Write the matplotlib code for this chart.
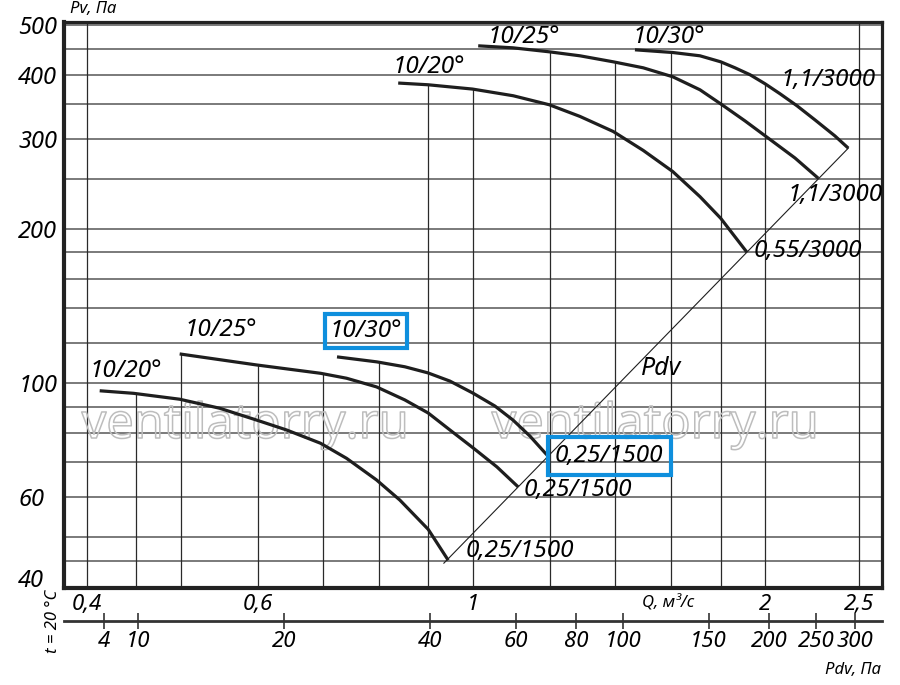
import numpy as np
import matplotlib.pyplot as plt
from matplotlib.ticker import NullFormatter
import matplotlib.patheffects as pe

plt.rcParams['font.family'] = ['Noto Sans', 'DejaVu Sans']
plt.rcParams['font.style'] = 'italic'

# fan curves: Q in m3/s, Pv in Pa
q_20_lo = [0.4125, 0.447, 0.4987, 0.5484, 0.5983, 0.6426, 0.6966, 0.741, 0.7956, 0.8409, 0.8995, 0.9431]
pv_20_lo = [96.6, 95.5, 93.0, 89.3, 84.7, 81.0, 76.3, 71.3, 64.7, 59.1, 51.8, 45.1]
q_25_lo = [0.4987, 0.5983, 0.6966, 0.741, 0.7956, 0.8509, 0.8995, 0.9469, 1.0007, 1.0587, 1.1134]
pv_25_lo = [114.0, 108.5, 104.5, 102.2, 98.3, 92.7, 87.4, 81.0, 74.7, 68.6, 62.7]
q_30_lo = [0.7244, 0.7962, 0.8509, 0.8987, 0.9469, 1.0, 1.0536, 1.0997, 1.1449, 1.192]
pv_30_lo = [112.5, 110.0, 107.6, 104.7, 100.9, 95.6, 90.2, 84.7, 78.8, 72.4]

q_20_hi = [0.8376, 0.8995, 0.9993, 1.1005, 1.1985, 1.2893, 1.3951, 1.4982, 1.6069, 1.714, 1.8004, 1.915]
pv_20_hi = [385.3, 382.3, 375.0, 363.9, 349.5, 331.6, 309.9, 284.6, 258.8, 231.2, 209.8, 180.3]
q_25_hi = [1.0127, 1.0997, 1.1985, 1.2893, 1.3951, 1.4982, 1.6069, 1.714, 1.8058, 1.9073, 2.0144, 2.1474, 2.2696]
pv_25_hi = [455.5, 451.4, 443.4, 435.5, 423.9, 412.6, 396.3, 373.8, 349.5, 325.0, 301.0, 275.1, 251.1]
q_30_hi = [1.469, 1.6069, 1.714, 1.8004, 1.8627, 1.9301, 2.0, 2.0724, 2.1576, 2.2517, 2.3613, 2.4372]
pv_30_hi = [447.4, 442.0, 435.5, 423.9, 412.6, 400.0, 384.1, 367.2, 347.9, 326.5, 303.7, 287.5]

curves = [(q_20_lo, pv_20_lo), (q_25_lo, pv_25_lo), (q_30_lo, pv_30_lo),
          (q_20_hi, pv_20_hi), (q_25_hi, pv_25_hi), (q_30_hi, pv_30_hi)]
start_labels = ["10/20°", "10/25°", "10/30°", "10/20°", "10/25°", "10/30°"]
end_labels = ["0,25/1500", "0,25/1500", "0,25/1500", "0,55/3000", "1,1/3000", "1,1/3000"]
start_boxed = [False, False, True, False, False, False]
end_boxed = [False, False, True, False, False, False]

# Pdv line through the curve ends
pdv_line_q = [0.9335, 2.437]
pdv_line_p = [44.5, 287.5]
# dynamic pressure scale below: Pdv = k * Q^2
k_pdv = 49

q_ticks = [0.4, 0.6, 1, 2, 2.5]
q_tick_labels = ["0,4", "0,6", "1", "2", "2,5"]
q_grid = [0.4, 0.45, 0.5, 0.6, 0.7, 0.8, 0.9, 1.0, 1.2, 1.4, 1.6, 1.8, 2.0, 2.5]
pv_ticks = [40, 60, 100, 200, 300, 400, 500]
pv_grid = [40, 45, 50, 60, 70, 80, 90, 100, 120, 140, 160, 180, 200, 250, 300, 350, 400, 450, 500]
# the first Pdv tick sits where the scale gives ~8.5 but the sheet prints "4"
pdv_ticks = [8.5, 10, 20, 40, 60, 80, 100, 150, 200, 250, 300]
pdv_tick_labels = ["4", "10", "20", "40", "60", "80", "100", "150", "200", "250", "300"]

blue = '#0f8fdd'
ink = '#1e1e1e'

fig = plt.figure(figsize=(9, 6.85), dpi=100)
ax = fig.add_axes([0.0711, 0.1416, 0.9089, 0.8263])
ax.set_xscale('log')
ax.set_yscale('log')
xmin, xmax = 0.379, 2.64
ymin, ymax = 39.8, 507
ax.set_xlim(xmin, xmax)
ax.set_ylim(ymin, ymax)

# horizontal grid, full width
for p in pv_grid:
    ax.axhline(p, color='#707070', lw=1.3, zorder=1)

# vertical grid, stops under the highest curve
for q in q_grid:
    tops = [np.exp(np.interp(np.log(q), np.log(cq), np.log(cp)))
            for cq, cp in curves if cq[0] <= q <= cq[-1]]
    top = max(tops) if tops else ymax
    ax.vlines(q, ymin, top, color='#2a2a2a', lw=0.9, zorder=1)

# watermark, outline only
for xf in [0.2213, 0.7225]:
    ax.text(xf, 0.265, "ventilatorry.ru", transform=ax.transAxes, fontsize=35,
            style='normal', ha='center', va='baseline', color='none', zorder=2,
            path_effects=[pe.Stroke(linewidth=1.1, foreground='#bdbdbd')])

# Pdv line
ax.plot(pdv_line_q, pdv_line_p, color=ink, lw=0.8, zorder=3)
ax.text(1.49, 107, "Pdv", fontsize=18, ha='left', va='center', zorder=4)

start_off = [(-10, 20), (5, 24), (-7, 26), (-6, 16), (9, 9), (-2, 13)]
end_off = [(17, 9), (5, -3), (8, -1), (7, 1), (-31, -17), (-68, 68)]

for i, (cq, cp) in enumerate(curves):
    ax.plot(cq, cp, color=ink, lw=2.3, zorder=4, solid_capstyle='butt')
    bb = dict(boxstyle='square,pad=0.2', fc='none', ec=blue, lw=3) if start_boxed[i] else None
    ax.annotate(start_labels[i], (cq[0], cp[0]), xytext=start_off[i],
                textcoords='offset pixels', fontsize=17.5, ha='left', va='center',
                bbox=bb, zorder=5)
    bb = dict(boxstyle='square,pad=0.3', fc='none', ec=blue, lw=3) if end_boxed[i] else None
    ax.annotate(end_labels[i], (cq[-1], cp[-1]), xytext=end_off[i],
                textcoords='offset pixels', fontsize=17.5, ha='left', va='center',
                bbox=bb, zorder=5)

# axes ticks
ax.set_xticks(q_ticks, q_tick_labels)
ax.set_xticks([], minor=True)
ax.set_yticks(pv_ticks, [str(v) for v in pv_ticks])
ax.set_yticks([], minor=True)
ax.yaxis.set_minor_formatter(NullFormatter())
ax.xaxis.set_minor_formatter(NullFormatter())
ax.tick_params(axis='x', length=0, pad=4, labelsize=16)
ax.tick_params(axis='y', length=0, pad=33, labelsize=17)
for lbl in ax.get_yticklabels():
    lbl.set_horizontalalignment('left')
    if lbl.get_text() == "40":
        lbl.set_verticalalignment('baseline')

for s in ax.spines.values():
    s.set_linewidth(2.3)
    s.set_color('#222222')
ax.spines['bottom'].set_linewidth(3)
ax.spines['left'].set_linewidth(3)

# Pdv scale below
sec = ax.secondary_xaxis(-0.0583, functions=(lambda q: k_pdv * q ** 2,
                                               lambda p: np.sqrt(np.clip(p, 1e-9, None) / k_pdv)))
sec.set_xticks(pdv_ticks, pdv_tick_labels)
sec.set_xticks([], minor=True)
sec.xaxis.set_minor_formatter(NullFormatter())
sec.tick_params(axis='x', direction='inout', length=12, width=1.2, color='#333333',
                pad=1, labelsize=16)
sec.spines['bottom'].set_linewidth(2)
sec.spines['bottom'].set_color('#333333')

ax.text(0.0355, 1.023, "Pv, Па", transform=ax.transAxes, fontsize=12, ha='center', va='center')
ax.text(0.7384, -0.0265, "Q, м³/с", transform=ax.transAxes, fontsize=12, ha='center', va='center')
ax.text(0.9645, -0.1449, "Pdv, Па", transform=ax.transAxes, fontsize=12, ha='center', va='center')
ax.text(-0.0134, -0.0583, "t = 20 °C", transform=ax.transAxes, fontsize=12, rotation=90,
        ha='center', va='center')

fig.savefig("out.png", dpi=100)
